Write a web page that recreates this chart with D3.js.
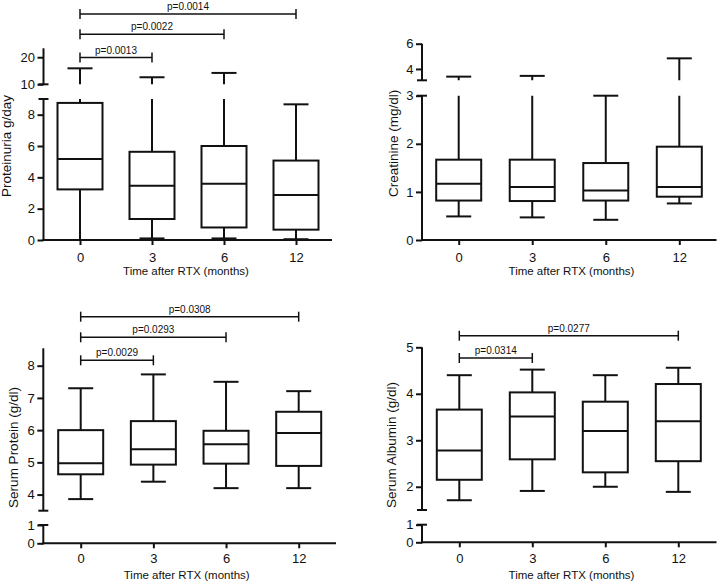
<!DOCTYPE html>
<html><head><meta charset="utf-8">
<script src="https://cdn.jsdelivr.net/npm/d3@7"></script>
<style>body{margin:0;background:#fff}svg{display:block}</style>
</head><body><svg id="c" width="719" height="582"></svg>
<script>
// ---------- DATA ----------
const categories = ['0', '3', '6', '12'];
const xTitle = 'Time after RTX (months)';

const proteinuriaMin = [0, 0.1, 0.1, 0.05];
const proteinuriaQ1 = [3.23, 1.34, 0.8, 0.66];
const proteinuriaMedian = [5.17, 3.46, 3.59, 2.88];
const proteinuriaQ3 = [8.75, 5.63, 6.0, 5.07];
const proteinuriaMax = [15.9, 12.6, 14.2, 8.66];
const proteinuriaTicksLow = [0, 2, 4, 6, 8];
const proteinuriaTicksHigh = [10, 20];
const proteinuriaPairs = [['0', '3'], ['0', '6'], ['0', '12']];
const proteinuriaPValues = ['p=0.0013', 'p=0.0022', 'p=0.0014'];

const creatinineMin = [0.49, 0.47, 0.42, 0.76];
const creatinineQ1 = [0.82, 0.81, 0.82, 0.9];
const creatinineMedian = [1.17, 1.1, 1.03, 1.1];
const creatinineQ3 = [1.67, 1.67, 1.6, 1.94];
const creatinineMax = [3.39, 3.45, 3.0, 4.84];
const creatinineTicksLow = [0, 1, 2, 3];
const creatinineTicksHigh = [4, 6];
const creatininePairs = [];
const creatininePValues = [];

const proteinMin = [3.86, 4.4, 4.2, 4.2];
const proteinQ1 = [4.63, 4.93, 4.96, 4.89];
const proteinMedian = [4.97, 5.41, 5.56, 5.91];
const proteinQ3 = [6.0, 6.28, 5.98, 6.57];
const proteinMax = [7.3, 7.73, 7.5, 7.21];
const proteinTicksLow = [0, 1];
const proteinTicksHigh = [4, 5, 6, 7, 8];
const proteinPairs = [['0', '3'], ['0', '6'], ['0', '12']];
const proteinPValues = ['p=0.0029', 'p=0.0293', 'p=0.0308'];

const albuminMin = [1.71, 1.91, 2.0, 1.89];
const albuminQ1 = [2.15, 2.59, 2.31, 2.55];
const albuminMedian = [2.78, 3.51, 3.2, 3.41];
const albuminQ3 = [3.66, 4.03, 3.83, 4.21];
const albuminMax = [4.4, 4.52, 4.4, 4.56];
const albuminTicksLow = [0, 1];
const albuminTicksHigh = [2, 3, 4, 5];
const albuminPairs = [['0', '3'], ['0', '12']];
const albuminPValues = ['p=0.0314', 'p=0.0277'];

// ---------- LAYOUT ----------
const FONT = "Arial, 'Liberation Sans', sans-serif";
const panels = [
  { title: 'Proteinuria g/day', min: proteinuriaMin, q1: proteinuriaQ1, med: proteinuriaMedian, q3: proteinuriaQ3, max: proteinuriaMax,
    pairs: proteinuriaPairs, pv: proteinuriaPValues,
    axisX: 43.5, xAxisY: 240, xRight: 332, cat: [80, 296], xTickPad: 7.5,
    segs: [{ domain: [0, 9], range: [240, 99], ticks: proteinuriaTicksLow },
           { domain: [10, 23.3], range: [84.3, 48.3], ticks: proteinuriaTicksHigh }],
    tX: 11, tY: 146, xtX: 186, xtY: 274.5, brY: [57.5, 34.3, 14] },
  { title: 'Creatinine (mg/dl)', min: creatinineMin, q1: creatinineQ1, med: creatinineMedian, q3: creatinineQ3, max: creatinineMax,
    pairs: creatininePairs, pv: creatininePValues,
    axisX: 422, xAxisY: 240, xRight: 716.5, cat: [458.7, 679.3], xTickPad: 7.5,
    segs: [{ domain: [0, 3], range: [240, 95.7], ticks: creatinineTicksLow },
           { domain: [3.1, 6], range: [80.3, 43.7], ticks: creatinineTicksHigh }],
    tX: 397.5, tY: 143.3, xtX: 571.5, xtY: 274.5, brY: [] },
  { title: 'Serum Protein (g/dl)', min: proteinMin, q1: proteinQ1, med: proteinMedian, q3: proteinQ3, max: proteinMax,
    pairs: proteinPairs, pv: proteinPValues,
    axisX: 43.3, xAxisY: 543.3, xRight: 336, cat: [80.7, 298.7], xTickPad: 5.8,
    segs: [{ domain: [0, 1], range: [543.3, 525], ticks: proteinTicksLow },
           { domain: [3.5, 8.54], range: [510.7, 348.3], ticks: proteinTicksHigh }],
    tX: 17.6, tY: 447.5, xtX: 186.7, xtY: 578.5, brY: [360.3, 337.3, 316.7] },
  { title: 'Serum Albumin (g/dl)', min: albuminMin, q1: albuminQ1, med: albuminMedian, q3: albuminQ3, max: albuminMax,
    pairs: albuminPairs, pv: albuminPValues,
    axisX: 422, xAxisY: 542.3, xRight: 716.5, cat: [459.3, 678.3], xTickPad: 6.5,
    segs: [{ domain: [0, 1], range: [542.3, 524.7], ticks: albuminTicksLow },
           { domain: [1.5, 5], range: [510, 347.3], ticks: albuminTicksHigh }],
    tX: 396, tY: 445, xtX: 571.5, xtY: 579, brY: [358, 335.7] }
];

const BOX_W = 45, CAP_W = 25, LW = 2;
const COL = '#111';
const svg = d3.select('#c');
const defs = svg.append('defs');

panels.forEach((p, pi) => {
  const g = svg.append('g');
  const x = d3.scalePoint().domain(categories).range(p.cat);

  p.segs.forEach((s, si) => {
    const y = d3.scaleLinear().domain(s.domain).range(s.range);
    const inSeg = v => v >= s.domain[0] - 1e-6 && v <= s.domain[1] + 1e-6;
    const id = `clip${pi}_${si}`;
    const top = Math.min(...s.range), bot = Math.max(...s.range);
    defs.append('clipPath').attr('id', id).append('rect')
      .attr('x', p.axisX + 2).attr('y', top).attr('width', 719).attr('height', bot - top);
    const sg = g.append('g').attr('clip-path', `url(#${id})`);
    // whiskers (clipped to segment)
    sg.selectAll('line.wu').data(categories).join('line').attr('class', 'wu')
      .attr('x1', d => x(d)).attr('x2', d => x(d))
      .attr('y1', (d, i) => y(p.q3[i])).attr('y2', (d, i) => y(p.max[i]))
      .attr('stroke', COL).attr('stroke-width', LW);
    sg.selectAll('line.wl').data(categories).join('line').attr('class', 'wl')
      .attr('x1', d => x(d)).attr('x2', d => x(d))
      .attr('y1', (d, i) => y(p.q1[i])).attr('y2', (d, i) => y(p.min[i]))
      .attr('stroke', COL).attr('stroke-width', LW);
    // caps (only in the segment holding the value)
    const capG = g.append('g');
    [p.max, p.min].forEach(arr => {
      capG.append('g').selectAll('line').data(categories.filter((d, i) => inSeg(arr[i])))
        .join('line')
        .attr('x1', d => x(d) - CAP_W / 2).attr('x2', d => x(d) + CAP_W / 2)
        .attr('y1', d => y(arr[categories.indexOf(d)])).attr('y2', d => y(arr[categories.indexOf(d)]))
        .attr('stroke', COL).attr('stroke-width', LW);
    });
    // boxes
    const bx = g.append('g').selectAll('g').data(categories.filter((d, i) => inSeg(p.q1[i]) && inSeg(p.q3[i]))).join('g');
    bx.append('rect').attr('x', d => x(d) - BOX_W / 2).attr('width', BOX_W)
      .attr('y', d => y(p.q3[categories.indexOf(d)]))
      .attr('height', d => y(p.q1[categories.indexOf(d)]) - y(p.q3[categories.indexOf(d)]))
      .attr('fill', '#fff').attr('stroke', COL).attr('stroke-width', LW);
    bx.append('line').attr('x1', d => x(d) - BOX_W / 2).attr('x2', d => x(d) + BOX_W / 2)
      .attr('y1', d => y(p.med[categories.indexOf(d)])).attr('y2', d => y(p.med[categories.indexOf(d)]))
      .attr('stroke', COL).attr('stroke-width', LW);

    // y axis segment
    const ax = g.append('g').attr('transform', `translate(${p.axisX},0)`)
      .call(d3.axisLeft(y).tickValues(s.ticks).tickSize(6).tickSizeOuter(0).tickPadding(2.5).tickFormat(d3.format('d')));
    ax.select('.domain').remove();
    ax.selectAll('line').attr('stroke', COL).attr('stroke-width', LW);
    ax.selectAll('text').attr('font-family', FONT).attr('font-size', 13).attr('fill', COL);
    g.append('line').attr('x1', p.axisX).attr('x2', p.axisX)
      .attr('y1', s.range[0] + (si === 0 ? 1 : 0)).attr('y2', s.range[1])
      .attr('stroke', COL).attr('stroke-width', LW);
    const capY = si === 0 ? s.range[1] : s.range[0];
    g.append('line').attr('x1', p.axisX - 5).attr('x2', p.axisX + 5)
      .attr('y1', capY).attr('y2', capY).attr('stroke', COL).attr('stroke-width', LW);
  });

  // x axis
  const xa = g.append('g').attr('transform', `translate(0,${p.xAxisY})`)
    .call(d3.axisBottom(x).tickSize(5).tickSizeOuter(0).tickPadding(p.xTickPad));
  xa.select('.domain').remove();
  xa.selectAll('line').attr('stroke', COL).attr('stroke-width', LW);
  xa.selectAll('text').attr('font-family', FONT).attr('font-size', 13).attr('fill', COL);
  g.append('line').attr('x1', p.axisX - 1).attr('x2', p.xRight)
    .attr('y1', p.xAxisY).attr('y2', p.xAxisY).attr('stroke', COL).attr('stroke-width', LW);

  // titles
  g.append('text').attr('transform', `translate(${p.tX},${p.tY}) rotate(-90)`)
    .attr('text-anchor', 'middle').attr('font-family', FONT).attr('font-size', 13.5).attr('fill', COL)
    .text(p.title);
  g.append('text').attr('x', p.xtX).attr('y', p.xtY).attr('text-anchor', 'middle')
    .attr('font-family', FONT).attr('font-size', 11.5).attr('fill', COL).text(xTitle);

  // significance brackets
  p.pairs.forEach((pr, k) => {
    const by = p.brY[k];
    const x1 = x(pr[0]), x2 = x(pr[1]);
    const bg = g.append('g').attr('stroke', COL).attr('stroke-width', 1.5);
    bg.append('line').attr('x1', x1).attr('x2', x2).attr('y1', by).attr('y2', by);
    bg.append('line').attr('x1', x1).attr('x2', x1).attr('y1', by - 5).attr('y2', by + 5);
    bg.append('line').attr('x1', x2).attr('x2', x2).attr('y1', by - 5).attr('y2', by + 5);
    g.append('text').attr('x', (x1 + x2) / 2).attr('y', by - 4).attr('text-anchor', 'middle')
      .attr('font-family', FONT).attr('font-size', 10).attr('fill', COL).text(p.pv[k]);
  });
});
</script></body></html>
